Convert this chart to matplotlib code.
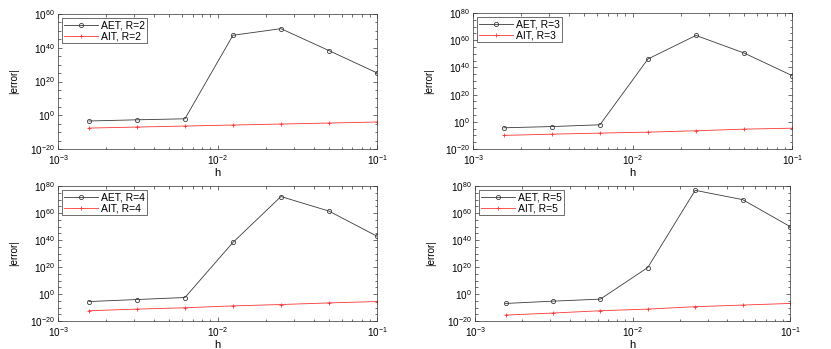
import numpy as np
import matplotlib
matplotlib.use("Agg")
import matplotlib.pyplot as plt
from matplotlib.ticker import FixedLocator, LogLocator, NullFormatter

plt.rcParams['font.family'] = ['Liberation Sans', 'DejaVu Sans']
plt.rcParams['mathtext.fontset'] = 'custom'
plt.rcParams['mathtext.rm'] = 'Liberation Sans'
plt.rcParams['mathtext.it'] = 'Liberation Sans'

h = [0.0015625, 0.003125, 0.00625, 0.0125, 0.025, 0.05, 0.1]

# log10 of |error|
aet_R2 = [-3.4, -2.7, -2.1, 47.4, 51.3, 38.3, 25.1]
ait_R2 = [-7.6, -7.0, -6.4, -5.8, -5.2, -4.6, -4.0]
aet_R3 = [-4.4, -3.5, -2.2, 46.2, 63.5, 50.6, 34.0]
ait_R3 = [-10.0, -9.1, -8.3, -7.6, -6.6, -5.4, -4.7]
aet_R4 = [-5.6, -4.1, -2.6, 38.2, 72.2, 61.4, 42.8]
ait_R4 = [-12.4, -11.2, -10.2, -8.8, -7.8, -6.6, -5.6]
aet_R5 = [-7.0, -5.3, -3.8, 19.6, 76.8, 69.9, 50.0]
ait_R5 = [-15.6, -14.1, -12.4, -11.2, -9.4, -8.2, -7.0]

panels = [
    (2, aet_R2, ait_R2, 60, (58, 14, 377, 149)),
    (3, aet_R3, ait_R3, 80, (473, 13, 792, 149)),
    (4, aet_R4, ait_R4, 80, (58, 186, 377, 321)),
    (5, aet_R5, ait_R5, 80, (475, 186, 790, 321)),
]

W, H = 831, 349
fig = plt.figure(figsize=(W / 100, H / 100), dpi=100)
fs = 7.2

for R, aet, ait, ytop, (l, t, r, b) in panels:
    ax = fig.add_axes([l / W, 1 - b / H, (r - l) / W, (b - t) / H])
    ax.plot(h, 10.0 ** np.array(aet), color='#3a3a3a', lw=0.6, marker='o',
            ms=3, mfc='none', mew=0.6, label=f'AET, R={R}')
    ax.plot(h, 10.0 ** np.array(ait), color='#ff3535', lw=0.6, marker='+',
            ms=3.5, mew=0.6, label=f'AIT, R={R}')
    ax.set_xscale('log')
    ax.set_yscale('log')
    ax.set_xlim(1e-3, 1e-1)
    ax.set_ylim(1e-20, 10.0 ** ytop)
    ax.yaxis.set_major_locator(FixedLocator([10.0 ** k for k in range(-20, ytop + 1, 20)]))
    ax.yaxis.set_minor_locator(FixedLocator([10.0 ** k for k in range(-20, ytop + 1, 5)]))
    ax.yaxis.set_minor_formatter(NullFormatter())
    ax.set_yticklabels([f'$10^{{{k}}}$' for k in range(-20, ytop + 1, 20)])
    ax.xaxis.set_major_locator(FixedLocator([1e-3, 1e-2, 1e-1]))
    ax.set_xticklabels(['$10^{-3}$', '$10^{-2}$', '$10^{-1}$'])
    ax.xaxis.set_minor_locator(LogLocator(base=10, subs=np.arange(2, 10)))
    ax.xaxis.set_minor_formatter(NullFormatter())
    ax.tick_params(which='both', direction='in', top=True, right=True,
                   labelsize=fs, width=0.5, color='#333333')
    ax.tick_params(axis='y', pad=2)
    ax.tick_params(axis='x', pad=3)
    ax.tick_params(which='major', length=3)
    ax.tick_params(which='minor', length=1.8)
    for s in ax.spines.values():
        s.set_linewidth(0.5)
        s.set_color('#333333')
    ax.set_xlabel('h', fontsize=8, labelpad=0.5)
    ax.set_ylabel('|error|', fontsize=fs, labelpad=8)
    leg = ax.legend(loc='upper left', fontsize=7.5, frameon=True, fancybox=False,
                    edgecolor='black', borderpad=0.2, labelspacing=0.1,
                    handlelength=3.2, handletextpad=0.3, borderaxespad=0.4)
    leg.get_frame().set_linewidth(0.5)

fig.savefig('out.png', dpi=100)
